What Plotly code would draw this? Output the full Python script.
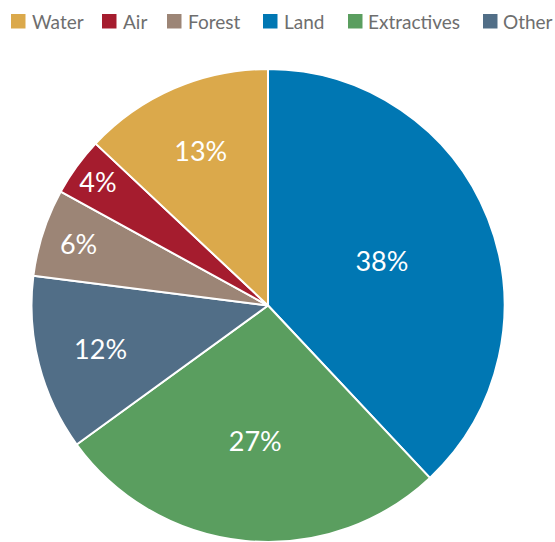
import plotly.graph_objects as go

# Data (legend order)
categories = ["Water", "Air", "Forest", "Land", "Extractives", "Other"]
shares = [13, 4, 6, 38, 27, 12]
colors = ["#DBA94B", "#A51C2E", "#9C8576", "#0077B3", "#5A9E5F", "#516E87"]

# Slice order, clockwise from 12 o'clock
pie_order = ["Land", "Extractives", "Other", "Forest", "Air", "Water"]

W, H = 555, 542
cmap = dict(zip(categories, colors))
vmap = dict(zip(categories, shares))

fig = go.Figure()
fig.add_trace(go.Pie(
    labels=pie_order,
    values=[vmap[c] for c in pie_order],
    marker=dict(colors=[cmap[c] for c in pie_order], line=dict(color="white", width=2)),
    sort=False,
    direction="clockwise",
    rotation=0,
    texttemplate="%{value}%",
    textposition="inside",
    insidetextorientation="horizontal",
    textfont=dict(family="Lato", size=27, color="white"),
    hoverinfo="label+percent",
    showlegend=False,
    domain=dict(x=[31 / W, 505 / W], y=[0, 473 / H]),
))

# Custom legend (squares + labels) in legend order
sq_left = [11, 102, 167, 263, 348, 483]
txt_left = [31, 122, 187, 283, 367, 502]
shapes = []
annotations = []
for c, sx, tx in zip(categories, sq_left, txt_left):
    shapes.append(dict(type="rect", xref="paper", yref="paper",
                       x0=sx / W, x1=(sx + 14.5) / W,
                       y0=1 - 28.5 / H, y1=1 - 14 / H,
                       fillcolor=cmap[c], line=dict(width=0)))
    annotations.append(dict(text=c, xref="paper", yref="paper",
                            x=(tx - 1) / W, y=1 - 21.5 / H,
                            xanchor="left", yanchor="middle", showarrow=False,
                            font=dict(family="Lato", size=19, color="#6E6E6E")))

fig.update_layout(
    width=W, height=H,
    margin=dict(l=0, r=0, t=0, b=0),
    paper_bgcolor="white", plot_bgcolor="white",
    shapes=shapes, annotations=annotations,
)

fig.write_html(
    "out.html",
    config={"displayModeBar": False},
    post_script="document.body.style.margin='0';document.body.style.overflow='hidden';",
)
